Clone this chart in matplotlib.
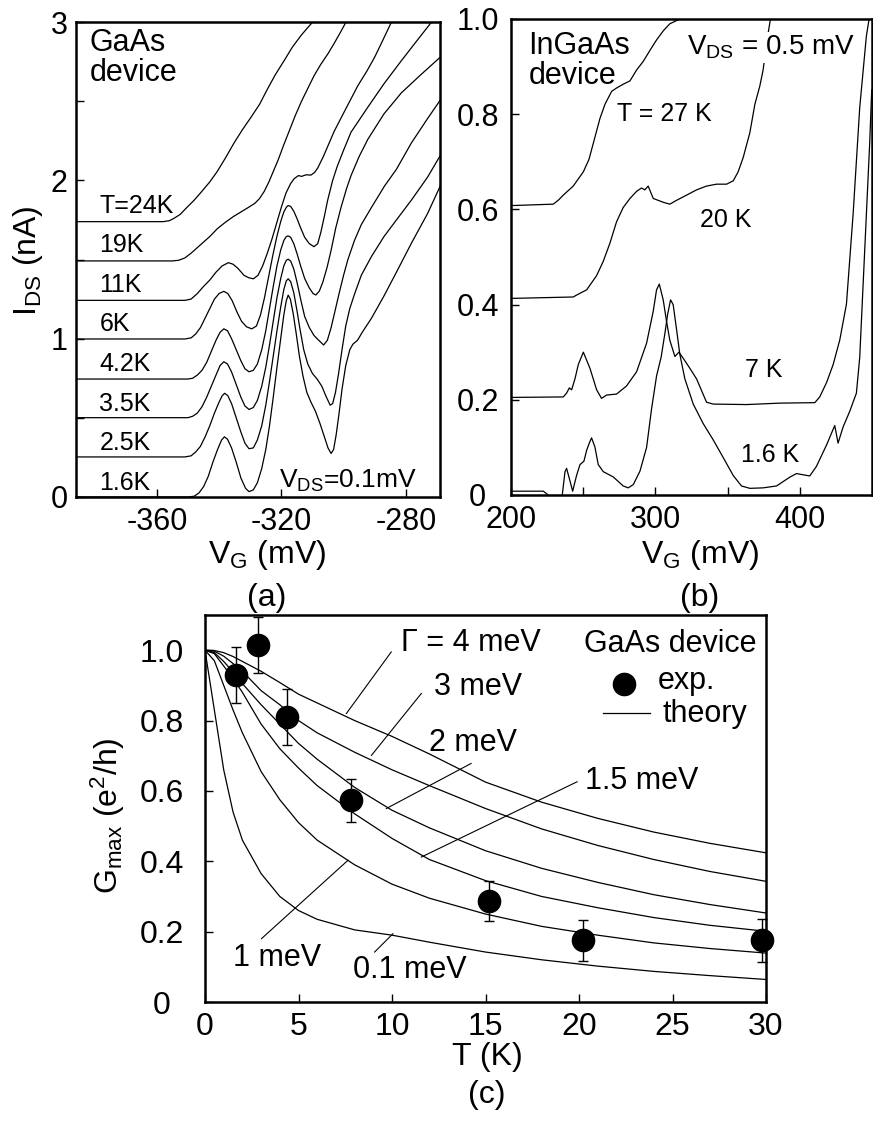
import matplotlib
matplotlib.use("Agg")
import matplotlib.pyplot as plt

plt.rcParams["font.family"] = ["Liberation Sans", "DejaVu Sans"]
plt.rcParams["mathtext.fontset"] = "custom"
plt.rcParams["mathtext.rm"] = "Liberation Sans"
plt.rcParams["mathtext.it"] = "Liberation Sans:italic"
plt.rcParams["axes.unicode_minus"] = False

# ---- (a) GaAs device, I_DS vs V_G, curves offset by 0.25 nA ----
gaas_temps = ["1.6K", "2.5K", "3.5K", "4.2K", "6K", "11K", "19K", "T=24K"]
gaas_offsets = [0, 0.25, 0.5, 0.75, 1.0, 1.25, 1.5, 1.75]

gaas_1p6k = [(-386, 0), (-350, 0), (-348, 0.005), (-346.5, 0.025), (-345, 0.065), (-343.5, 0.13),
             (-342, 0.22), (-340.5, 0.30), (-339.2, 0.36), (-338.3, 0.38), (-337.3, 0.365), (-336, 0.31),
             (-334.5, 0.22), (-333, 0.12), (-331.5, 0.055), (-330.4, 0.034), (-329, 0.045), (-327.7, 0.09),
             (-326.3, 0.18), (-325, 0.30), (-323.8, 0.45), (-322.6, 0.63), (-321.4, 0.82), (-320.2, 1.0),
             (-319.2, 1.15), (-318.4, 1.24), (-317.8, 1.275), (-317.1, 1.25), (-316.2, 1.16), (-315.2, 1.03),
             (-314.2, 0.89), (-313.0, 0.76), (-311.8, 0.66), (-310.5, 0.60), (-309.0, 0.54), (-307.5, 0.46),
             (-306.0, 0.37), (-305.0, 0.31), (-304.0, 0.275), (-303.2, 0.30), (-302.4, 0.39), (-301.5, 0.52),
             (-300.5, 0.68), (-299.3, 0.83), (-298.0, 0.93), (-297.0, 0.965), (-295.5, 0.99), (-294.0, 1.04),
             (-291.0, 1.13), (-287.0, 1.27), (-283.0, 1.42), (-278.0, 1.61), (-273.0, 1.79), (-268.9, 1.965)]

gaas_2p5k = [(-386, 0.253), (-351, 0.253), (-349, 0.26), (-347.5, 0.285), (-346, 0.32), (-344.5, 0.38),
             (-343, 0.45), (-341.5, 0.53), (-340, 0.60), (-339, 0.64), (-338.2, 0.655), (-337.2, 0.64),
             (-336, 0.59), (-334.5, 0.50), (-333, 0.41), (-331.7, 0.34), (-330.4, 0.305), (-329, 0.31),
             (-327.7, 0.36), (-326.3, 0.45), (-325, 0.58), (-323.8, 0.73), (-322.6, 0.89), (-321.4, 1.05),
             (-320.2, 1.20), (-319.2, 1.31), (-318.4, 1.365), (-317.8, 1.378), (-317.0, 1.36), (-316.0, 1.29),
             (-315.0, 1.18), (-314.0, 1.06), (-312.8, 0.93), (-311.5, 0.84), (-310, 0.78), (-308.5, 0.745),
             (-307, 0.70), (-305.5, 0.63), (-304.3, 0.58), (-303.5, 0.59), (-302.6, 0.66), (-301.6, 0.78),
             (-300.5, 0.93), (-299.3, 1.08), (-298, 1.19), (-296.5, 1.28), (-294.3, 1.40), (-291, 1.52),
             (-287, 1.645), (-283, 1.75), (-278.2, 1.875), (-273, 2.02), (-268.9, 2.157)]

gaas_3p5k = [(-386, 0.501), (-350, 0.501), (-348.5, 0.51), (-347, 0.53), (-345.5, 0.57), (-344, 0.63),
             (-342.5, 0.70), (-341, 0.77), (-339.7, 0.83), (-338.5, 0.854), (-337.3, 0.84), (-336, 0.79),
             (-334.5, 0.71), (-333, 0.63), (-331.7, 0.575), (-330.4, 0.553), (-329, 0.565), (-327.7, 0.61),
             (-326.3, 0.70), (-325, 0.82), (-323.8, 0.96), (-322.6, 1.11), (-321.4, 1.26), (-320.2, 1.38),
             (-319.2, 1.46), (-318.4, 1.495), (-317.8, 1.502), (-317.0, 1.49), (-316.0, 1.44), (-315.0, 1.36),
             (-313.8, 1.25), (-312.5, 1.14), (-311, 1.07), (-309.5, 1.02), (-308, 0.99), (-306.4, 0.96),
             (-305.2, 0.99), (-304, 1.07), (-302.8, 1.17), (-301.5, 1.28), (-300, 1.40), (-298.6, 1.50),
             (-296.5, 1.62), (-294.3, 1.72), (-291, 1.83), (-286.8, 1.965), (-283, 2.07), (-278.2, 2.236),
             (-273, 2.39), (-268.9, 2.507)]

gaas_4p2k = [(-386, 0.745), (-350, 0.745), (-348.5, 0.75), (-347, 0.77), (-345.5, 0.80), (-344, 0.85),
             (-342.5, 0.92), (-341, 0.99), (-339.7, 1.04), (-338.5, 1.062), (-337.3, 1.05), (-336, 1.00),
             (-334.5, 0.93), (-333, 0.86), (-331.7, 0.81), (-330.4, 0.791), (-329, 0.80), (-327.7, 0.84),
             (-326.3, 0.93), (-325, 1.05), (-323.8, 1.19), (-322.6, 1.33), (-321.4, 1.46), (-320.2, 1.56),
             (-319.2, 1.62), (-318.4, 1.645), (-317.8, 1.649), (-317.0, 1.64), (-316.0, 1.60), (-315.0, 1.54),
             (-313.8, 1.46), (-312.5, 1.38), (-311, 1.32), (-309.8, 1.285), (-308.9, 1.276), (-307.8, 1.30),
             (-306.7, 1.355), (-305.3, 1.45), (-304, 1.559), (-302.5, 1.70), (-300.8, 1.83), (-299, 1.95),
             (-297.6, 2.03), (-295, 2.15), (-292.2, 2.259), (-287, 2.42), (-281.4, 2.553), (-275, 2.67),
             (-268.9, 2.778)]

gaas_6k = [(-386, 0.998), (-351, 0.998), (-349, 1.005), (-347.5, 1.03), (-346, 1.07), (-344.5, 1.13),
           (-343, 1.19), (-341.5, 1.25), (-340, 1.285), (-338.5, 1.299), (-337.2, 1.285), (-335.8, 1.24),
           (-334.3, 1.17), (-332.8, 1.11), (-331.2, 1.075), (-329.5, 1.062), (-328, 1.08), (-326.7, 1.15),
           (-325.4, 1.26), (-324.1, 1.39), (-322.8, 1.52), (-321.5, 1.64), (-320.2, 1.74), (-319.2, 1.80),
           (-318.4, 1.83), (-317.8, 1.841), (-317.0, 1.835), (-316.0, 1.805), (-315.0, 1.76), (-313.8, 1.70),
           (-312.5, 1.64), (-311, 1.60), (-309.5, 1.581), (-308.3, 1.60), (-307.3, 1.672), (-306.2, 1.77),
           (-305.1, 1.875), (-303.5, 2.00), (-302, 2.09), (-300, 2.19), (-297.6, 2.304), (-295, 2.38),
           (-292.2, 2.462), (-287, 2.61), (-281.4, 2.756), (-276.5, 2.88), (-271.7, 3.0)]

gaas_11k = [(-386, 1.242), (-351, 1.242), (-349, 1.25), (-347, 1.285), (-345, 1.33), (-343, 1.37),
            (-341, 1.42), (-339, 1.46), (-337, 1.48), (-335.5, 1.47), (-334, 1.445), (-332, 1.40),
            (-330.5, 1.385), (-329, 1.378), (-327.5, 1.40), (-326, 1.46), (-324.5, 1.54), (-323, 1.63),
            (-321.5, 1.73), (-320, 1.83), (-318.5, 1.92), (-317, 1.98), (-315.9, 2.01), (-314.5, 2.03),
            (-313.5, 2.025), (-312, 2.035), (-310.5, 2.033), (-309.3, 2.05), (-308.3, 2.078), (-306.5, 2.15),
            (-305.1, 2.214), (-303, 2.31), (-300.8, 2.394), (-298, 2.50), (-295.4, 2.598), (-292.5, 2.69),
            (-290, 2.778), (-287.5, 2.88), (-284.6, 3.0)]

gaas_19k = [(-386, 1.491), (-355, 1.491), (-353, 1.495), (-351, 1.51), (-349, 1.54), (-347, 1.575),
            (-345, 1.61), (-343, 1.645), (-340.6, 1.694), (-338, 1.735), (-335.5, 1.77), (-333, 1.80),
            (-330.5, 1.83), (-328.5, 1.855), (-327, 1.885), (-325.5, 1.93), (-324, 1.99), (-322.5, 2.06),
            (-321, 2.13), (-319.3, 2.22), (-317.5, 2.31), (-315.5, 2.41), (-313.5, 2.50), (-311.5, 2.58),
            (-309.5, 2.66), (-307.3, 2.733), (-305, 2.80), (-302.9, 2.869), (-301, 2.935), (-299.2, 3.0)]

gaas_24k = [(-386, 1.739), (-358, 1.739), (-356, 1.745), (-354.5, 1.76), (-352.5, 1.785), (-350.3, 1.83),
            (-348, 1.875), (-346, 1.92), (-343, 1.99), (-340.6, 2.056), (-338, 2.14), (-335.2, 2.236),
            (-332.5, 2.32), (-329.9, 2.394), (-327, 2.48), (-324.5, 2.575), (-322, 2.665), (-319.1, 2.756),
            (-316.5, 2.84), (-313.7, 2.914), (-311.5, 2.965), (-309.9, 3.0)]

# ---- (b) InGaAs device ----
ingaas_27k = [(200, 0.608), (229.3, 0.611), (233, 0.62), (236.2, 0.630), (243.1, 0.649), (250.1, 0.679),
              (254, 0.705), (257.0, 0.739), (261.6, 0.791), (265.1, 0.821), (269.7, 0.848), (273.1, 0.855),
              (277.7, 0.863), (282.4, 0.870), (287.0, 0.893), (291.6, 0.911), (296.2, 0.934), (300.8, 0.956),
              (305.4, 0.975), (310.0, 0.990), (317.0, 1.0), (322, 1.01)]

ingaas_20k = [(200, 0.413), (243.1, 0.416), (245.4, 0.420), (252.4, 0.431), (259.3, 0.461), (263.9, 0.491),
              (268.5, 0.529), (273.1, 0.574), (277.7, 0.604), (282.4, 0.623), (287.0, 0.638), (290.4, 0.645),
              (292.7, 0.641), (295.0, 0.649), (298.5, 0.623), (305.4, 0.615), (310.0, 0.611), (314.6, 0.619),
              (321.6, 0.630), (328.5, 0.641), (335.4, 0.649), (342.3, 0.653), (349.3, 0.653), (353.9, 0.660),
              (357.3, 0.679), (360.8, 0.709), (365.4, 0.761), (368.9, 0.821), (372.3, 0.859), (374.6, 0.893),
              (376.9, 0.949), (379.7, 1.0), (381, 1.01)]

ingaas_7k = [(200, 0.205), (236.2, 0.206), (238.5, 0.214), (240.4, 0.225), (242.0, 0.221), (244.3, 0.244),
             (246.6, 0.274), (250.1, 0.300), (254.7, 0.266), (259.3, 0.221), (262.7, 0.203), (266.2, 0.210),
             (273.1, 0.212), (280.0, 0.229), (287.0, 0.259), (293.9, 0.319), (298.5, 0.386), (300.8, 0.431),
             (302.7, 0.443), (305.4, 0.410), (307.7, 0.365), (310.0, 0.325), (313.5, 0.291), (316.3, 0.300),
             (319.3, 0.287), (323.9, 0.266), (328.5, 0.244), (335.4, 0.195), (340.0, 0.191), (363.1, 0.190),
             (386.2, 0.193), (410.4, 0.194), (413.8, 0.206), (418.5, 0.236), (423.1, 0.274), (427.7, 0.326),
             (432.3, 0.401), (436.9, 0.589), (441.5, 0.814), (446.1, 0.964), (448.0, 1.0)]

ingaas_1p6k = [(200, 0.008), (222.4, 0.008), (225.8, 0.0), (228, -0.05), (234, -0.05), (235.5, 0.0),
               (237.4, 0.049), (238.5, 0.056), (240.8, 0.030), (242.7, 0.008), (245.4, 0.041), (247.8, 0.064),
               (250.5, 0.071), (252.4, 0.094), (254.2, 0.109), (255.8, 0.120), (258.1, 0.101), (260.4, 0.064),
               (263.9, 0.049), (270.8, 0.038), (277.7, 0.019), (281.2, 0.015), (284.7, 0.022), (289.3, 0.05),
               (293.9, 0.10), (297.3, 0.18), (300.8, 0.25), (304.0, 0.29), (306.6, 0.34), (308.5, 0.38),
               (310.5, 0.41), (312.3, 0.40), (314.6, 0.349), (316.9, 0.296), (320.4, 0.244), (326.2, 0.191),
               (333.1, 0.150), (340.0, 0.116), (346.9, 0.079), (353.9, 0.041), (359.6, 0.019), (365.4, 0.014),
               (374.6, 0.015), (383.9, 0.019), (393.1, 0.0375), (397.7, 0.045), (406.9, 0.040), (411.5, 0.060),
               (418.5, 0.105), (424.2, 0.146), (426.5, 0.109), (430.0, 0.143), (434.6, 0.176), (439.2, 0.214),
               (441.5, 0.289), (443.8, 0.439), (446.1, 0.589), (448.4, 0.739), (449.8, 0.851)]

# ---- (c) G_max vs T ----
t_theory = [0, 0.5, 1, 1.5, 2, 3, 4, 5, 6, 8, 10, 12, 15, 18, 21, 24, 27, 30]
g_gamma4 = [1.0, 0.999, 0.993, 0.982, 0.968, 0.94, 0.908, 0.875, 0.85, 0.80, 0.755, 0.705, 0.625,
            0.568, 0.522, 0.483, 0.451, 0.424]
g_gamma3 = [1.0, 0.997, 0.983, 0.962, 0.94, 0.885, 0.845, 0.80, 0.765, 0.71, 0.66, 0.615, 0.55,
            0.492, 0.445, 0.405, 0.371, 0.343]
g_gamma2 = [1.0, 0.993, 0.968, 0.938, 0.905, 0.845, 0.79, 0.735, 0.69, 0.61, 0.545, 0.495, 0.43,
            0.38, 0.34, 0.305, 0.277, 0.253]
g_gamma15 = [1.0, 0.99, 0.955, 0.92, 0.88, 0.79, 0.72, 0.665, 0.615, 0.535, 0.465, 0.405, 0.345,
             0.30, 0.268, 0.24, 0.218, 0.201]
g_gamma1 = [1.0, 0.97, 0.90, 0.83, 0.765, 0.655, 0.575, 0.51, 0.46, 0.39, 0.335, 0.295, 0.25,
            0.215, 0.19, 0.168, 0.152, 0.139]
g_gamma01 = [1.0, 0.83, 0.66, 0.54, 0.46, 0.365, 0.30, 0.26, 0.235, 0.205, 0.19, 0.17, 0.142,
             0.12, 0.102, 0.087, 0.075, 0.064]

t_exp = [1.67, 2.81, 4.39, 7.8, 15.2, 20.2, 29.8]
g_exp = [0.929, 1.014, 0.811, 0.573, 0.287, 0.175, 0.175]
g_err = [0.08, 0.08, 0.08, 0.06, 0.058, 0.058, 0.062]

W, H = 873, 1124
LW = 0.9


def fig_box(left, top, right, bottom):
    return [left / W, 1 - bottom / H, (right - left) / W, (bottom - top) / H]


def unzip(points):
    return [p[0] for p in points], [p[1] for p in points]


def style_axes(ax):
    for s in ax.spines.values():
        s.set_linewidth(1.8)
    ax.tick_params(which="both", direction="in", length=6, width=1,
                   labelsize=22, top=False, right=False)


def center_ylabels(ax):
    # the original centres the y tick labels in a column left of the axis
    for lab in ax.get_yticklabels():
        lab.set_horizontalalignment("center")


def panel_a(fig):
    ax = fig.add_axes(fig_box(76, 22, 440, 497))
    curves = [gaas_1p6k, gaas_2p5k, gaas_3p5k, gaas_4p2k, gaas_6k, gaas_11k, gaas_19k, gaas_24k]
    for pts in curves:
        x, y = unzip(pts)
        ax.plot(x, y, color="black", lw=LW)
    for lab, off in zip(gaas_temps, gaas_offsets):
        ax.text(-378.5, off + 0.09, lab, fontsize=18, ha="left", va="center")
    ax.text(-381.7, 2.96, "GaAs\ndevice", fontsize=22, ha="left", va="top", linespacing=1.0)
    ax.text(-320.7, 0.02, r"V$_{\mathrm{DS}}$=0.1mV", fontsize=19, ha="left", va="bottom")
    ax.set_xlim(-386, -269)
    ax.set_ylim(0, 3)
    ax.set_xticks([-360, -320, -280])
    ax.set_yticks([0, 1, 2, 3])
    ax.set_yticks([0.5, 1.5, 2.5], minor=True)
    style_axes(ax)
    ax.tick_params(axis="y", pad=6)
    ax.tick_params(axis="x", pad=7)


def panel_b(fig):
    ax = fig.add_axes(fig_box(511, 19, 872, 495))
    for pts in [ingaas_27k, ingaas_20k, ingaas_7k, ingaas_1p6k]:
        x, y = unzip(pts)
        ax.plot(x, y, color="black", lw=LW, zorder=2)
    ax.text(212, 0.975, "InGaAs\ndevice", fontsize=22, ha="left", va="top", linespacing=1.0)
    ax.text(321.6, 0.94, r"V$_{\mathrm{DS}}$ = 0.5 mV", fontsize=20, ha="left", va="center",
            zorder=3, bbox=dict(facecolor="white", edgecolor="none", pad=1))
    ax.text(273.1, 0.80, "T = 27 K", fontsize=18, ha="left", va="center")
    ax.text(330.8, 0.578, "20 K", fontsize=18, ha="left", va="center")
    ax.text(361.9, 0.263, "7 K", fontsize=18, ha="left", va="center")
    ax.text(359.6, 0.085, "1.6 K", fontsize=18, ha="left", va="center")
    ax.set_xlim(200, 450)
    ax.set_ylim(0, 1.0)
    ax.set_xticks([200, 300, 400])
    ax.set_xticks([250, 350], minor=True)
    ax.set_yticks([0, 0.2, 0.4, 0.6, 0.8, 1.0])
    ax.set_yticklabels(["0", "0.2", "0.4", "0.6", "0.8", "1.0"])
    style_axes(ax)
    ax.tick_params(axis="y", pad=24)
    ax.tick_params(axis="x", pad=7)
    center_ylabels(ax)


def panel_c(fig):
    ax = fig.add_axes(fig_box(205, 615, 766, 1002))
    for g in [g_gamma4, g_gamma3, g_gamma2, g_gamma15, g_gamma1, g_gamma01]:
        ax.plot(t_theory, g, color="black", lw=LW)
    ax.errorbar(t_exp, g_exp, yerr=g_err, fmt="o", color="black", ms=16, elinewidth=1,
                capsize=3.6, capthick=1, clip_on=False, zorder=3)

    # curve labels with leader lines
    labels = [("\u0393 = 4 meV", 10.5, 1.02, (9.96, 7.56), (0.995, 0.82)),
              ("3 meV", 12.25, 0.896, (11.57, 8.9), (0.877, 0.701)),
              ("2 meV", 12.0, 0.737, (14.23, 9.7), (0.678, 0.55)),
              ("1.5 meV", 20.3, 0.628, (19.9, 11.57), (0.626, 0.412)),
              ("1 meV", 1.5, 0.125, (3.02, 7.65), (0.18, 0.403)),
              ("0.1 meV", 7.9, 0.092, (9.07, 10.05), (0.142, 0.194))]
    for txt, tx, ty, lx, ly in labels:
        ax.text(tx, ty, txt, fontsize=22, ha="left", va="center")
        ax.plot(lx, ly, color="black", lw=0.8)

    # hand-made legend
    ax.text(0.829, 0.925, "GaAs device", transform=ax.transAxes, fontsize=22,
            ha="center", va="center")
    ax.plot([0.747], [0.822], "o", color="black", ms=16, transform=ax.transAxes)
    ax.text(0.807, 0.83, "exp.", transform=ax.transAxes, fontsize=22, ha="left", va="center")
    ax.plot([0.709, 0.793], [0.747, 0.747], color="black", lw=LW, transform=ax.transAxes)
    ax.text(0.816, 0.744, "theory", transform=ax.transAxes, fontsize=22, ha="left", va="center")

    ax.set_xlim(0, 30)
    ax.set_ylim(0, 1.1)
    ax.set_xticks([0, 5, 10, 15, 20, 25, 30])
    ax.set_yticks([0, 0.2, 0.4, 0.6, 0.8, 1.0])
    ax.set_yticklabels(["0", "0.2", "0.4", "0.6", "0.8", "1.0"])
    style_axes(ax)
    ax.tick_params(labelsize=23)
    ax.tick_params(axis="y", pad=31)
    ax.tick_params(axis="x", pad=7)
    center_ylabels(ax)


def main():
    fig = plt.figure(figsize=(W / 100, H / 100), dpi=100)
    panel_a(fig)
    panel_b(fig)
    panel_c(fig)

    fig.text(28 / W, 1 - 261 / H, r"I$_{\mathrm{DS}}$ (nA)", rotation=90, fontsize=23,
             ha="center", va="center")
    fig.text(267 / W, 1 - 555 / H, r"V$_{\mathrm{G}}$ (mV)", fontsize=23, ha="center", va="center")
    fig.text(267 / W, 1 - 598 / H, "(a)", fontsize=23, ha="center", va="center")
    fig.text(700 / W, 1 - 555 / H, r"V$_{\mathrm{G}}$ (mV)", fontsize=23, ha="center", va="center")
    fig.text(700 / W, 1 - 598 / H, "(b)", fontsize=23, ha="center", va="center")
    fig.text(108 / W, 1 - 816 / H, r"G$_{\mathrm{max}}$ (e$^{2}$/h)", rotation=90, fontsize=23,
             ha="center", va="center")
    fig.text(487 / W, 1 - 1057 / H, "T (K)", fontsize=23, ha="center", va="center")
    fig.text(487 / W, 1 - 1095 / H, "(c)", fontsize=23, ha="center", va="center")

    fig.savefig("out.png", dpi=100)


if __name__ == "__main__":
    main()
